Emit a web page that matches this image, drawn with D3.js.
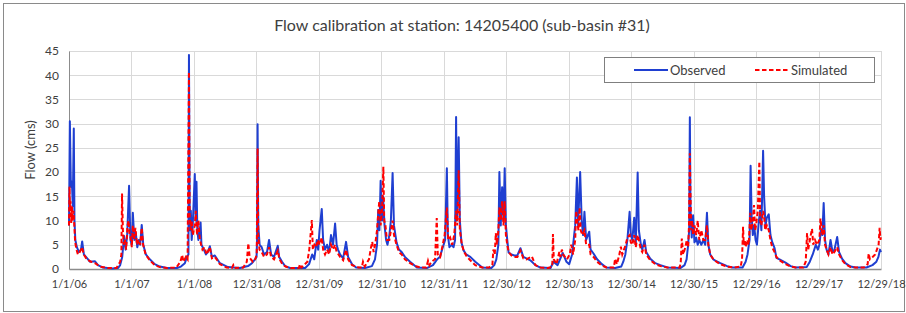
<!DOCTYPE html>
<html>
<head>
<meta charset="utf-8">
<script src="https://cdn.jsdelivr.net/npm/d3@7"></script>
<style>
  body { margin: 0; background: #fff; }
  text { font-family: Lato, "Open Sans", sans-serif; fill: #404040; }
</style>
</head>
<body>
<div id="chart"></div>
<script>
var observed = [
  ["2006-01-01",9],["2006-01-06",30.5],["2006-01-12",17],["2006-01-18",18],["2006-01-23",13],["2006-01-29",29],["2006-02-02",10],["2006-02-07",6],["2006-02-16",4.5],["2006-02-28",3.5],["2006-03-12",4],["2006-03-19",5.7],["2006-03-29",3],["2006-04-15",2.3],["2006-05-03",1.5],["2006-06-02",1.6],["2006-06-19",0.8],["2006-07-19",0.3],["2006-09-10",0.1],["2006-10-15",0.2],["2006-10-27",0.8],["2006-11-08",2.5],["2006-11-19",6.8],["2006-11-28",4],["2006-12-07",7],["2006-12-18",17.2],["2006-12-26",6],
  ["2007-01-03",5],["2007-01-09",11.6],["2007-01-18",6],["2007-01-26",7.5],["2007-02-04",4.5],["2007-02-13",6],["2007-02-21",5],["2007-03-02",9.1],["2007-03-11",5],["2007-03-26",3],["2007-04-18",2],["2007-05-17",1],["2007-06-16",0.5],["2007-07-27",0.2],["2007-09-24",0.2],["2007-10-17",0.5],["2007-11-09",1.2],["2007-11-21",2.5],["2007-11-30",3],["2007-12-03",44.2],["2007-12-08",8],["2007-12-14",12],["2007-12-19",6],["2007-12-25",9],
  ["2008-01-06",19.6],["2008-01-12",10],["2008-01-16",18],["2008-01-21",8],["2008-01-27",6],["2008-02-02",7],["2008-02-09",9.6],["2008-02-14",5],["2008-02-28",4],["2008-03-11",3],["2008-03-22",3.5],["2008-04-03",4.7],["2008-04-15",2.5],["2008-05-02",2.8],["2008-06-01",1.2],["2008-07-18",0.4],["2008-09-26",0.2],["2008-11-12",0.6],["2008-12-05",1.2],["2008-12-23",2],
  ["2009-01-01",2.5],["2009-01-04",6],["2009-01-07",29.9],["2009-01-11",9],["2009-01-19",5],["2009-01-31",4.5],["2009-02-14",3],["2009-03-03",3.5],["2009-03-15",6],["2009-03-27",3],["2009-04-13",2.5],["2009-05-05",4.8],["2009-05-13",2.5],["2009-05-30",1.5],["2009-06-17",0.6],["2009-07-16",0.2],["2009-10-12",0.2],["2009-11-04",1],["2009-11-22",3],["2009-12-04",2],["2009-12-19",6],["2009-12-27",4],
  ["2010-01-04",8],["2010-01-17",12.4],["2010-01-25",6],["2010-02-05",4],["2010-02-17",5],["2010-03-01",3.5],["2010-03-12",7],["2010-03-24",5],["2010-04-05",9.4],["2010-04-14",5],["2010-04-22",4],["2010-05-04",3],["2010-05-22",2.2],["2010-06-08",5.6],["2010-06-20",2.5],["2010-07-13",1],["2010-08-06",0.3],["2010-09-27",0.2],["2010-11-06",0.6],["2010-11-24",2],["2010-12-06",5],["2010-12-13",12.2],["2010-12-20",8],["2010-12-27",18.2],
  ["2011-01-04",10],["2011-01-10",15],["2011-01-19",9],["2011-01-28",6],["2011-02-05",5],["2011-02-16",7],["2011-02-25",10],["2011-03-07",19.8],["2011-03-15",9],["2011-03-30",5.5],["2011-04-13",4],["2011-04-29",3.5],["2011-05-18",2.5],["2011-06-17",1.5],["2011-07-27",0.3],["2011-09-23",0.2],["2011-10-29",0.8],["2011-11-22",2],["2011-12-09",2.5],["2011-12-21",4],
  ["2012-01-08",6],["2012-01-18",20.8],["2012-01-24",7],["2012-02-02",4.5],["2012-02-14",5],["2012-02-26",4.5],["2012-03-06",6],["2012-03-12",31.4],["2012-03-17",10],["2012-03-27",27.2],["2012-04-03",10],["2012-04-12",5.5],["2012-04-24",3.9],["2012-05-10",3],["2012-06-03",2.5],["2012-07-02",1.5],["2012-08-12",0.3],["2012-10-04",0.2],["2012-10-21",0.8],["2012-11-02",2],["2012-11-14",5],["2012-11-20",20],["2012-11-28",9],["2012-12-06",16.9],["2012-12-14",10],["2012-12-21",20.8],["2012-12-28",9],
  ["2013-01-05",6],["2013-01-13",3.4],["2013-01-29",3],["2013-02-16",2.8],["2013-03-05",2.8],["2013-03-23",4.3],["2013-04-09",2.5],["2013-04-27",2.2],["2013-05-20",1.8],["2013-06-18",0.8],["2013-07-18",0.3],["2013-09-15",0.2],["2013-10-02",1.5],["2013-10-26",0.8],["2013-11-25",3.3],["2013-12-17",1.5],
  ["2014-01-02",1],["2014-01-19",3],["2014-02-06",9],["2014-02-16",18.9],["2014-02-23",9],["2014-03-07",20],["2014-03-16",10],["2014-03-24",7],["2014-04-01",11.8],["2014-04-11",6],["2014-04-29",7.7],["2014-05-07",4],["2014-05-24",3.2],["2014-06-14",2],["2014-07-12",1],["2014-08-06",0.3],["2014-09-28",0.2],["2014-11-02",0.5],["2014-11-14",1.5],["2014-11-26",3],["2014-12-08",6],["2014-12-21",11.8],["2014-12-28",7],
  ["2015-01-06",6],["2015-01-17",10.6],["2015-01-26",5],["2015-02-06",19.9],["2015-02-13",8],["2015-02-25",5],["2015-03-05",4],["2015-03-18",6],["2015-03-28",3.5],["2015-04-21",2.1],["2015-05-20",1.2],["2015-06-19",0.8],["2015-07-30",0.3],["2015-10-15",0.2],["2015-11-07",0.8],["2015-11-19",2],["2015-11-28",5],["2015-12-04",8],["2015-12-08",31.3],["2015-12-12",12],["2015-12-19",6.5],["2015-12-27",11.1],
  ["2016-01-04",5.5],["2016-01-14",6.5],["2016-01-23",5],["2016-02-01",6],["2016-02-13",5],["2016-02-25",6],["2016-03-07",5],["2016-03-17",11.6],["2016-03-25",5],["2016-04-05",3],["2016-04-23",2],["2016-05-11",1.6],["2016-06-03",1.2],["2016-07-13",0.6],["2016-08-13",0.3],["2016-10-11",0.3],["2016-10-29",1.5],["2016-11-09",3],["2016-11-21",6],["2016-11-27",21.3],["2016-12-03",11],["2016-12-10",7],["2016-12-18",9],["2016-12-26",6],
  ["2017-01-03",5],["2017-01-12",9],["2017-01-21",12],["2017-01-29",8],["2017-02-08",24.4],["2017-02-14",14.9],["2017-02-22",9],["2017-03-02",10.6],["2017-03-13",11.3],["2017-03-23",7],["2017-04-02",5.6],["2017-04-16",4.3],["2017-04-27",2.3],["2017-05-15",2],["2017-06-19",1.3],["2017-07-19",0.6],["2017-08-17",0.3],["2017-10-21",0.4],["2017-11-08",1.5],["2017-11-25",3],["2017-12-13",5],["2017-12-25",4],
  ["2018-01-03",5],["2018-01-12",8],["2018-01-20",7],["2018-01-28",13.6],["2018-02-05",6],["2018-02-14",4],["2018-02-25",3],["2018-03-09",6],["2018-03-21",3.5],["2018-04-01",4],["2018-04-17",6.6],["2018-04-28",3.5],["2018-05-16",2.1],["2018-06-04",1.2],["2018-07-04",0.5],["2018-08-02",0.3],["2018-10-05",0.3],["2018-11-09",0.8],["2018-12-02",1.5],["2018-12-14",2.5],["2018-12-23",4],["2018-12-29",3.5]
];

var simulated = [
  ["2006-01-01",9],["2006-01-04",17],["2006-01-07",12],["2006-01-10",14],["2006-01-14",9.5],["2006-01-18",13],["2006-01-22",10],["2006-01-27",12],["2006-02-01",9],["2006-02-06",5.5],["2006-02-14",4],["2006-02-22",3],["2006-03-05",3.5],["2006-03-18",4.5],["2006-03-28",3],["2006-04-15",2],["2006-05-10",1.5],["2006-06-02",1.2],["2006-07-01",0.5],["2006-08-15",0.2],["2006-10-05",0.2],["2006-10-27",1.5],["2006-11-03",3],["2006-11-07",15.6],["2006-11-12",8],["2006-11-17",5],["2006-11-24",6],["2006-12-01",4],["2006-12-09",9],["2006-12-15",10],["2006-12-21",7],["2006-12-27",6.5],
  ["2007-01-03",4.5],["2007-01-09",9],["2007-01-16",6],["2007-01-24",8.5],["2007-02-02",5],["2007-02-12",6],["2007-02-21",5],["2007-03-02",8.5],["2007-03-10",5],["2007-03-25",3],["2007-04-18",1.8],["2007-05-17",0.8],["2007-06-16",0.4],["2007-07-27",0.2],["2007-09-20",0.3],["2007-10-14",1.5],["2007-10-24",2.9],["2007-11-01",1.5],["2007-11-15",2.5],["2007-11-25",2],["2007-12-03",40.7],["2007-12-07",11],["2007-12-13",8],["2007-12-19",10],["2007-12-25",7],
  ["2008-01-06",9],["2008-01-12",12],["2008-01-19",7],["2008-01-27",10],["2008-02-05",6],["2008-02-12",5],["2008-02-20",4],["2008-03-03",4.5],["2008-03-15",3],["2008-04-03",4.5],["2008-04-15",2.2],["2008-05-02",2.5],["2008-06-01",1],["2008-07-10",0.3],["2008-08-10",0.2],["2008-08-18",0.8],["2008-08-25",0.2],["2008-10-15",0.3],["2008-11-05",1.5],["2008-11-14",5.3],["2008-11-22",2.3],["2008-12-10",1.5],["2008-12-24",2],
  ["2009-01-02",3],["2009-01-07",24.9],["2009-01-11",7],["2009-01-18",4],["2009-01-31",3.5],["2009-02-14",2.5],["2009-03-03",3],["2009-03-15",4.5],["2009-03-27",2.5],["2009-04-13",2],["2009-05-05",3.8],["2009-05-15",2],["2009-06-01",1],["2009-06-20",0.5],["2009-07-20",0.2],["2009-09-05",0.2],["2009-09-12",1],["2009-09-20",0.3],["2009-10-25",1.5],["2009-11-05",4],["2009-11-20",10.1],["2009-11-26",4],["2009-12-05",5],["2009-12-15",4.5],["2009-12-25",6],
  ["2010-01-04",5],["2010-01-17",6.5],["2010-01-25",4],["2010-02-05",3],["2010-02-17",4],["2010-03-01",3],["2010-03-12",5],["2010-03-24",4],["2010-04-05",5],["2010-04-14",3.5],["2010-04-25",3],["2010-05-04",2.5],["2010-05-22",1.8],["2010-06-08",4],["2010-06-20",2],["2010-07-13",0.8],["2010-08-20",0.3],["2010-09-08",0.3],["2010-09-15",1.5],["2010-09-25",0.5],["2010-10-20",2],["2010-11-01",4.5],["2010-11-08",5.6],["2010-11-16",3.5],["2010-11-25",5],["2010-12-06",8],["2010-12-12",11],["2010-12-19",14],["2010-12-27",9],
  ["2011-01-04",12],["2011-01-12",21.1],["2011-01-17",10],["2011-01-24",9],["2011-02-02",6],["2011-02-16",6],["2011-03-02",9],["2011-03-07",10],["2011-03-15",7],["2011-03-30",5],["2011-04-13",3.5],["2011-04-29",3],["2011-05-18",2],["2011-06-17",1.2],["2011-07-27",0.5],["2011-08-20",0.3],["2011-09-20",0.3],["2011-09-30",1.7],["2011-10-08",0.8],["2011-10-20",1.5],["2011-11-10",2],["2011-11-20",10.5],["2011-11-26",3],["2011-12-10",2.5],["2011-12-25",5],
  ["2012-01-05",7],["2012-01-18",12.7],["2012-01-26",6],["2012-02-06",6.5],["2012-02-18",5],["2012-03-01",7],["2012-03-12",12],["2012-03-19",9],["2012-03-27",20.4],["2012-04-03",8],["2012-04-15",5],["2012-04-28",3.5],["2012-05-15",2.5],["2012-06-03",1.8],["2012-07-02",0.8],["2012-08-12",0.3],["2012-09-20",0.3],["2012-10-10",0.8],["2012-10-16",4],["2012-10-24",3],["2012-10-30",7.4],["2012-11-06",5],["2012-11-14",8],["2012-11-20",12.7],["2012-11-28",10],["2012-12-06",14],["2012-12-14",9],["2012-12-21",14],["2012-12-28",7],
  ["2013-01-05",5],["2013-01-13",3.5],["2013-01-29",2.8],["2013-02-16",2.5],["2013-03-05",2.5],["2013-03-23",3.8],["2013-04-09",2.2],["2013-04-27",2],["2013-05-29",2.6],["2013-06-18",0.8],["2013-07-18",0.3],["2013-09-01",0.2],["2013-09-25",0.5],["2013-09-29",7.2],["2013-10-04",2],["2013-10-20",1],["2013-11-05",3.5],["2013-11-12",2.5],["2013-11-20",4],["2013-11-28",3],["2013-12-08",2.5],["2013-12-20",2],
  ["2014-01-05",3],["2014-01-14",5],["2014-01-25",3],["2014-02-06",6],["2014-02-12",12],["2014-02-17",10],["2014-02-25",8],["2014-03-04",12.7],["2014-03-10",8],["2014-03-20",7],["2014-04-01",8],["2014-04-11",5],["2014-04-29",5],["2014-05-07",3],["2014-05-24",2.5],["2014-06-14",1.5],["2014-07-12",0.7],["2014-08-10",0.3],["2014-09-20",0.3],["2014-09-27",2.1],["2014-10-08",1],["2014-10-22",3],["2014-10-31",4.6],["2014-11-08",3],["2014-11-18",4],["2014-11-28",5],["2014-12-08",6.5],["2014-12-21",7],["2014-12-28",5.5],
  ["2015-01-06",5],["2015-01-17",7],["2015-01-26",4.5],["2015-02-06",7],["2015-02-13",6],["2015-02-25",4],["2015-03-05",3.5],["2015-03-18",5],["2015-03-28",3],["2015-04-21",1.8],["2015-05-20",1],["2015-06-19",0.6],["2015-07-30",0.3],["2015-10-10",0.3],["2015-10-16",1.5],["2015-10-22",6.3],["2015-10-30",3],["2015-11-12",4.5],["2015-11-20",6],["2015-11-28",4.5],["2015-12-03",9],["2015-12-08",23.9],["2015-12-11",16.7],["2015-12-16",8],["2015-12-21",10],["2015-12-27",7],
  ["2016-01-04",9],["2016-01-14",7],["2016-01-23",10],["2016-02-01",6],["2016-02-13",8],["2016-02-25",6],["2016-03-07",6],["2016-03-17",9],["2016-03-25",5],["2016-04-05",3],["2016-04-23",2],["2016-05-11",1.5],["2016-06-03",1],["2016-07-13",0.5],["2016-08-20",0.3],["2016-09-30",0.5],["2016-10-08",2],["2016-10-14",8.7],["2016-10-18",5],["2016-10-24",6],["2016-10-30",4.5],["2016-11-06",6],["2016-11-16",5],["2016-11-25",11.6],["2016-12-01",8],["2016-12-10",10],["2016-12-17",13.2],["2016-12-23",8],["2016-12-29",9],
  ["2017-01-08",12],["2017-01-17",22.2],["2017-01-22",10],["2017-01-29",9],["2017-02-08",12],["2017-02-14",11],["2017-02-20",8],["2017-03-02",9],["2017-03-13",8],["2017-03-23",6],["2017-04-02",4.5],["2017-04-16",3.5],["2017-04-27",2.5],["2017-05-15",1.8],["2017-06-19",1],["2017-07-19",0.5],["2017-08-17",0.3],["2017-10-01",0.3],["2017-10-15",1.5],["2017-10-23",7.4],["2017-10-30",4],["2017-11-08",6],["2017-11-21",8.3],["2017-11-28",5],["2017-12-08",6],["2017-12-20",5],
  ["2018-01-03",6],["2018-01-09",10.4],["2018-01-20",7],["2018-01-28",9],["2018-02-05",5],["2018-02-14",4],["2018-02-25",3],["2018-03-09",4.5],["2018-03-21",3],["2018-04-01",3.5],["2018-04-17",4.5],["2018-04-28",3],["2018-05-16",1.8],["2018-06-04",1],["2018-07-04",0.4],["2018-08-02",0.3],["2018-09-20",0.3],["2018-10-12",1],["2018-10-18",3.2],["2018-10-25",2],["2018-11-10",2.5],["2018-11-25",3],["2018-12-05",4],["2018-12-15",5],["2018-12-21",8.5],["2018-12-26",6],["2018-12-29",7]
];

var xTickLabels = ["1/1/06","1/1/07","1/1/08","12/31/08","12/31/09","12/31/10","12/31/11",
                   "12/30/12","12/30/13","12/30/14","12/30/15","12/29/16","12/29/17","12/29/18"];
var yTickValues = [0, 5, 10, 15, 20, 25, 30, 35, 40, 45];
var seriesNames = ["Observed", "Simulated"];

var width = 906, height = 313;
var margin = {top: 51, right: 25, bottom: 44, left: 69};

var parseDay = d3.timeParse("%Y-%m-%d");
var parseTick = d3.timeParse("%m/%d/%y");
var tickDates = xTickLabels.map(parseTick);

var obs = observed.map(function(d){ return {date: parseDay(d[0]), flow: d[1]}; });
var sim = simulated.map(function(d){ return {date: parseDay(d[0]), flow: d[1]}; });

var svg = d3.select("#chart").append("svg")
    .attr("width", width)
    .attr("height", height);

// outer chart border
svg.append("rect")
    .attr("x", 3.5).attr("y", 3.5)
    .attr("width", width - 5).attr("height", height - 5)
    .attr("fill", "#fff")
    .attr("stroke", "#8a8a8a");

var x = d3.scaleTime()
    .domain([tickDates[0], tickDates[tickDates.length - 1]])
    .range([margin.left, width - margin.right]);

var y = d3.scaleLinear()
    .domain([0, 45])
    .range([height - margin.bottom, margin.top]);

// gridlines
svg.append("g")
    .selectAll("line")
    .data(yTickValues.slice(1))
    .enter().append("line")
    .attr("x1", x.range()[0]).attr("x2", x.range()[1])
    .attr("y1", function(d){ return Math.round(y(d)) + 0.5; })
    .attr("y2", function(d){ return Math.round(y(d)) + 0.5; })
    .attr("stroke", "#d9d9d9");

svg.append("g")
    .selectAll("line")
    .data(tickDates.slice(1))
    .enter().append("line")
    .attr("x1", function(d){ return Math.round(x(d)) + 0.5; })
    .attr("x2", function(d){ return Math.round(x(d)) + 0.5; })
    .attr("y1", y.range()[0]).attr("y2", y.range()[1])
    .attr("stroke", "#d9d9d9");

// axes
var yAxis = svg.append("g")
    .attr("transform", "translate(" + margin.left + ",0)")
    .call(d3.axisLeft(y).tickValues(yTickValues).tickSize(0).tickPadding(10));
yAxis.select(".domain").attr("stroke", "#8c8c8c");
yAxis.selectAll("text").attr("font-size", "12px").attr("fill", "#404040")
    .style("font-family", "Lato, sans-serif");

var xAxis = svg.append("g")
    .attr("transform", "translate(0," + (height - margin.bottom) + ")")
    .call(d3.axisBottom(x).tickValues(tickDates).tickSize(0).tickPadding(11)
        .tickFormat(function(d, i){ return xTickLabels[i]; }));
xAxis.select(".domain").attr("stroke", "#8c8c8c").attr("stroke-width", 1.5);
xAxis.selectAll("text").attr("font-size", "11px").attr("fill", "#404040")
    .style("font-family", "Lato, sans-serif");

// series
var line = d3.line()
    .x(function(d){ return x(d.date); })
    .y(function(d){ return y(d.flow); });

svg.append("path")
    .datum(obs)
    .attr("d", line)
    .attr("fill", "none")
    .attr("stroke", "#1f3fd1")
    .attr("stroke-width", 2)
    .attr("stroke-linejoin", "round");

svg.append("path")
    .datum(sim)
    .attr("d", line)
    .attr("fill", "none")
    .attr("stroke", "#ff0000")
    .attr("stroke-width", 2)
    .attr("stroke-dasharray", "4.5,2.5");

// title
svg.append("text")
    .attr("x", 462).attr("y", 31)
    .attr("text-anchor", "middle")
    .attr("font-size", "16px")
    .text("Flow calibration at station: 14205400 (sub-basin #31)");

// y label
svg.append("text")
    .attr("transform", "translate(35,150) rotate(-90)")
    .attr("text-anchor", "middle")
    .attr("font-size", "13px")
    .text("Flow (cms)");

// legend
var legend = svg.append("g").attr("transform", "translate(604,57)");
legend.append("rect")
    .attr("x", 0.5).attr("y", 0.5)
    .attr("width", 270).attr("height", 25)
    .attr("fill", "#fff")
    .attr("stroke", "#7f7f7f");

var legendItems = legend.selectAll(".item")
    .data(seriesNames)
    .enter().append("g")
    .attr("class", "item")
    .attr("transform", function(d, i){ return "translate(" + (30 + i * 121) + ",13)"; });

legendItems.append("line")
    .attr("x1", 0).attr("x2", 34)
    .attr("stroke", function(d, i){ return i ? "#ff0000" : "#1f3fd1"; })
    .attr("stroke-width", 2)
    .attr("stroke-dasharray", function(d, i){ return i ? "4.5,2.5" : null; });

legendItems.append("text")
    .attr("x", 36).attr("dy", "0.35em")
    .attr("font-size", "13px")
    .text(function(d){ return d; });
</script>
</body>
</html>
